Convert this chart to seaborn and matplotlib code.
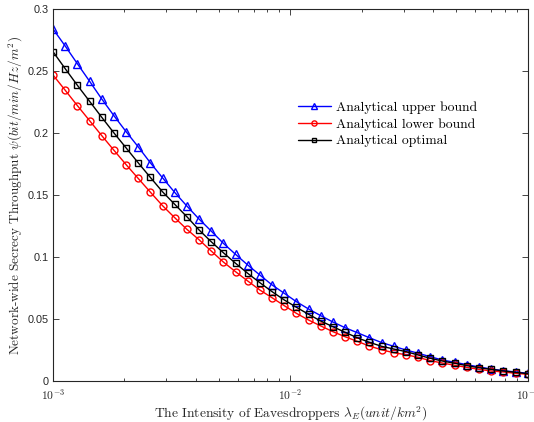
import numpy as np
import pandas as pd
import matplotlib
matplotlib.use("Agg")
import matplotlib.pyplot as plt
import seaborn as sns

# Data
lam = np.logspace(-3, -1, 40)
upper = [0.2841, 0.2704, 0.2561, 0.2420, 0.2277, 0.2142, 0.2013, 0.1890, 0.1761, 0.1640,
         0.1522, 0.1412, 0.1307, 0.1210, 0.1111, 0.1022, 0.0936, 0.0855, 0.0775, 0.0708,
         0.0640, 0.0581, 0.0527, 0.0476, 0.0430, 0.0390, 0.0349, 0.0310, 0.0280, 0.0250,
         0.0224, 0.0196, 0.0169, 0.0151, 0.0132, 0.0113, 0.0097, 0.0083, 0.0073, 0.0062]
lower = [0.2470, 0.2347, 0.2223, 0.2102, 0.1981, 0.1863, 0.1747, 0.1635, 0.1524, 0.1415,
         0.1318, 0.1224, 0.1140, 0.1049, 0.0960, 0.0882, 0.0807, 0.0734, 0.0672, 0.0608,
         0.0546, 0.0492, 0.0444, 0.0398, 0.0357, 0.0320, 0.0282, 0.0252, 0.0228, 0.0212,
         0.0191, 0.0164, 0.0145, 0.0127, 0.0110, 0.0094, 0.0081, 0.0073, 0.0062, 0.0054]
optimal = [0.2658, 0.2521, 0.2387, 0.2258, 0.2129, 0.2003, 0.1882, 0.1761, 0.1643, 0.1527,
           0.1426, 0.1326, 0.1219, 0.1124, 0.1035, 0.0950, 0.0869, 0.0793, 0.0721, 0.0654,
           0.0595, 0.0538, 0.0484, 0.0438, 0.0393, 0.0349, 0.0312, 0.0280, 0.0258, 0.0237,
           0.0210, 0.0183, 0.0161, 0.0143, 0.0124, 0.0107, 0.0094, 0.0081, 0.0070, 0.0059]
series_names = ["Analytical upper bound", "Analytical lower bound", "Analytical optimal"]
yticks = [0, 0.05, 0.1, 0.15, 0.2, 0.25, 0.3]
ytick_labels = ["0", "0.05", "0.1", "0.15", "0.2", "0.25", "0.3"]
xticks = [1e-3, 1e-2, 1e-1]
xtick_labels = [r"$\mathsf{10^{-3}}$", r"$\mathsf{10^{-2}}$", r"$\mathsf{10^{-1}}$"]

sns.set_theme(style="white")
plt.rcParams["mathtext.fontset"] = "cm"
plt.rcParams["axes.formatter.use_mathtext"] = True
plt.rcParams["font.family"] = ["Liberation Sans", "DejaVu Sans"]

fig = plt.figure(figsize=(5.34, 4.22), dpi=100)
ax = fig.add_axes([53/534, 1 - 381/422, (527.7 - 53)/534, (381 - 9.3)/422])

styles = [(upper, "blue", "^", 5.2), (lower, "red", "o", 5.0), (optimal, "black", "s", 4.3)]
for (vals, col, mk, ms), name in zip(styles, series_names):
    df = pd.DataFrame({"x": lam, "y": vals})
    sns.lineplot(data=df, x="x", y="y", ax=ax, color=col, marker=mk,
                 markersize=ms, markerfacecolor="none",
                 markeredgecolor=col, markeredgewidth=1.0, linewidth=1.0, label=name)

ax.set_xscale("log")
ax.set_xlim(1e-3, 1e-1)
ax.set_ylim(0, 0.3)
ax.set_xticks(xticks)
ax.set_xticklabels(xtick_labels)
ax.set_yticks(yticks)
ax.set_yticklabels(ytick_labels)

tc = "#262626"
for s in ax.spines.values():
    s.set_color(tc)
    s.set_linewidth(0.8)
ax.tick_params(which="both", direction="in", top=True, right=True, bottom=True, left=True,
               colors=tc, labelsize=7.8, width=0.6)
ax.tick_params(which="major", length=4)
ax.tick_params(which="minor", length=2.5)
ax.tick_params(axis="x", which="major", pad=5, labelsize=8.3)
ax.tick_params(axis="y", pad=3)

ax.set_xlabel(r"The Intensity of Eavesdroppers $\lambda_E(unit/km^2)$",
              fontfamily="cmr10", fontsize=9.7, color=tc, labelpad=1)
ax.set_ylabel(r"Network-wide Secrecy Throughput $\psi(bit/min/Hz/m^2)$",
              fontfamily="cmr10", fontsize=9.5, color=tc, labelpad=2)

leg = ax.legend(loc="upper left", bbox_to_anchor=(0.49, 0.785), frameon=False,
                prop={"family": "cmr10", "size": 9.8}, handlelength=2.4,
                labelspacing=0.3, handletextpad=0.4, markerscale=0.75)
for t in leg.get_texts():
    t.set_color("black")

fig.savefig("out.png", dpi=100)
